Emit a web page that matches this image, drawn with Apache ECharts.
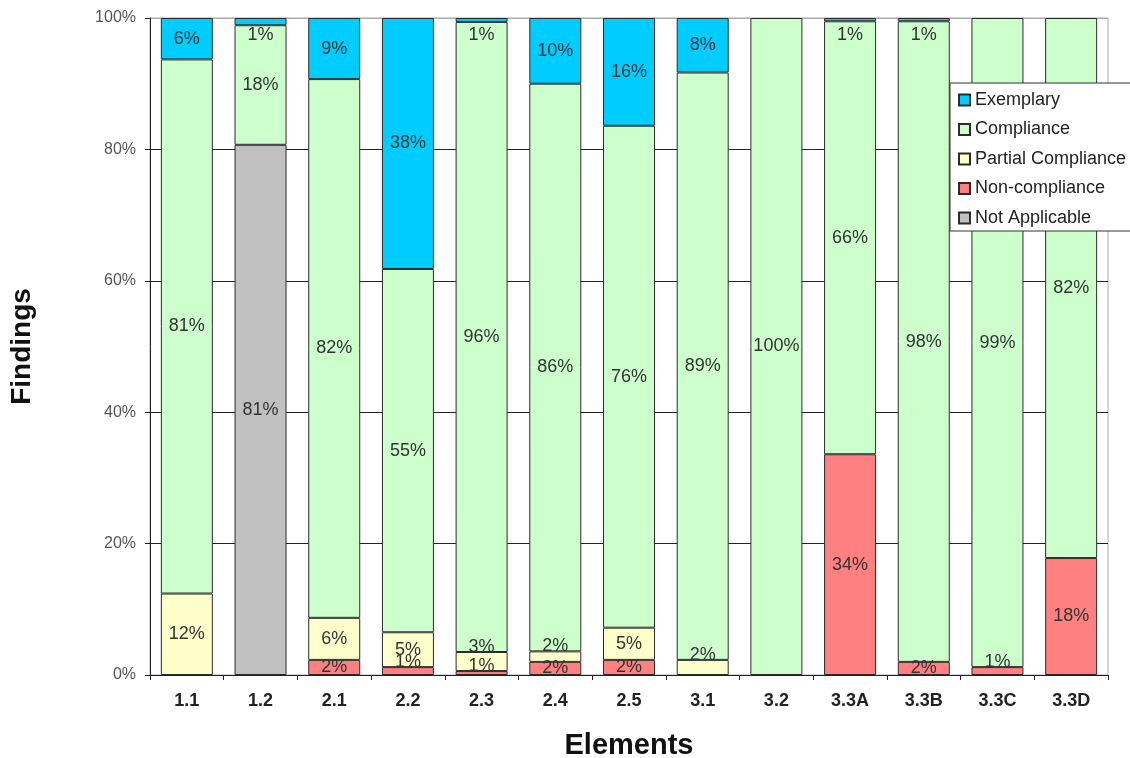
<!DOCTYPE html>
<html>
<head>
<meta charset="utf-8">
<title>Findings by Element</title>
<script src="https://cdn.jsdelivr.net/npm/echarts@6/dist/echarts.min.js"></script>
<style>
  html, body { margin: 0; padding: 0; background: #fff; }
  #chart { width: 1130px; height: 758px; }
</style>
</head>
<body>
<div id="chart"></div>
<script>
// Elements reviewed
const categories = ['1.1', '1.2', '2.1', '2.2', '2.3', '2.4', '2.5', '3.1', '3.2', '3.3A', '3.3B', '3.3C', '3.3D'];

// Share of findings per element, in percent (null = none)
const notApplicable = [null, 80.7, null, null, null, null, null, null, null, null, null, null, null];
const nonCompliance = [null, null, 2.3, 1.2, 0.6, 2.0, 2.3, null, null, 33.6, 2.0, 1.2, 17.8];
const partialCompliance = [12.4, null, 6.4, 5.3, 2.9, 1.6, 4.9, 2.3, null, null, null, null, null];
const compliance = [81.3, 18.2, 82.0, 55.3, 95.9, 86.4, 76.4, 89.4, 100, 65.9, 97.5, 98.8, 82.2];
const exemplary = [6.3, 1.1, 9.3, 38.2, 0.6, 10.0, 16.4, 8.3, null, 0.5, 0.5, null, null];

const yTicks = [0, 20, 40, 60, 80, 100];

const FONT = '"Liberation Sans", Arial, sans-serif';

// Segments too thin to hold their label get it nudged out of the way:
// lower segments lift it just above their top edge, the top segment
// drops it just under the 100% line.
function segmentLabel(value, thin, isTop) {
  if (value == null || !(value < thin)) return undefined;
  return isTop ? { position: 'insideTop', distance: 8 } : { position: 'top', distance: -4 };
}

function makeSeries(name, values, color, thin, isTop) {
  return {
    name: name,
    type: 'bar',
    stack: 'total',
    barWidth: 52,
    data: values.map(v => {
      const lbl = segmentLabel(v, thin, isTop);
      return lbl ? { value: v, label: lbl } : v;
    }),
    itemStyle: { color: color, borderColor: '#2b2b2b', borderWidth: 1 },
    label: {
      show: true,
      position: 'inside',
      fontFamily: FONT,
      fontSize: 18,
      color: '#333',
      formatter: p => (p.value == null ? '' : Math.round(p.value) + '%')
    },
    emphasis: { disabled: true }
  };
}

const chart = echarts.init(document.getElementById('chart'), null, { renderer: 'canvas' });

chart.setOption({
  animation: false,
  backgroundColor: '#ffffff',
  textStyle: { fontFamily: FONT },
  grid: {
    left: 150, right: 22, top: 18, bottom: 83,
    outerBoundsMode: 'none',
    containLabel: false,
    show: true, borderColor: '#aaaaaa', borderWidth: 1, backgroundColor: 'transparent'
  },
  legend: {
    orient: 'vertical',
    left: 950,
    top: 83,
    backgroundColor: '#ffffff',
    borderColor: '#333',
    borderWidth: 1,
    borderRadius: 0,
    padding: [8, 30, 4, 8],
    itemGap: 11.5,
    itemWidth: 11,
    itemHeight: 11,
    icon: 'rect',
    textStyle: { fontFamily: FONT, fontSize: 18, color: '#222', padding: [0, 0, 0, 0] },
    data: ['Exemplary', 'Compliance', 'Partial Compliance', 'Non-compliance', 'Not Applicable']
  },
  xAxis: {
    type: 'category',
    data: categories,
    name: 'Elements',
    nameLocation: 'middle',
    nameGap: 56,
    nameTextStyle: { fontFamily: FONT, fontSize: 29, fontWeight: 'bold', color: '#111' },
    axisLine: { lineStyle: { color: '#222', width: 1 } },
    axisTick: { show: true, length: 5, lineStyle: { color: '#222' } },
    axisLabel: { fontFamily: FONT, fontSize: 18, fontWeight: 'bold', color: '#222', margin: 17 }
  },
  yAxis: {
    type: 'value',
    min: yTicks[0],
    max: yTicks[yTicks.length - 1],
    interval: 20,
    name: 'Findings',
    nameLocation: 'middle',
    nameGap: 114,
    nameTextStyle: { fontFamily: FONT, fontSize: 28, fontWeight: 'bold', color: '#111' },
    axisLine: { show: true, lineStyle: { color: '#222', width: 1 } },
    axisTick: { show: true, length: 5, lineStyle: { color: '#222' } },
    axisLabel: { fontFamily: FONT, fontSize: 16, color: '#555', margin: 14, formatter: v => v + '%' },
    splitLine: { show: true, lineStyle: { color: ['#222', '#222', '#222', '#222', '#222', '#aaaaaa'], width: 1 } }
  },
  series: [
    makeSeries('Not Applicable', notApplicable, '#c0c0c0', 0, false),
    makeSeries('Non-compliance', nonCompliance, '#ff8080', 1.5, false),
    makeSeries('Partial Compliance', partialCompliance, '#ffffcc', 3, false),
    makeSeries('Compliance', compliance, '#ccffcc', 0, false),
    makeSeries('Exemplary', exemplary, '#00ccff', 2, true)
  ]
});
</script>
</body>
</html>
